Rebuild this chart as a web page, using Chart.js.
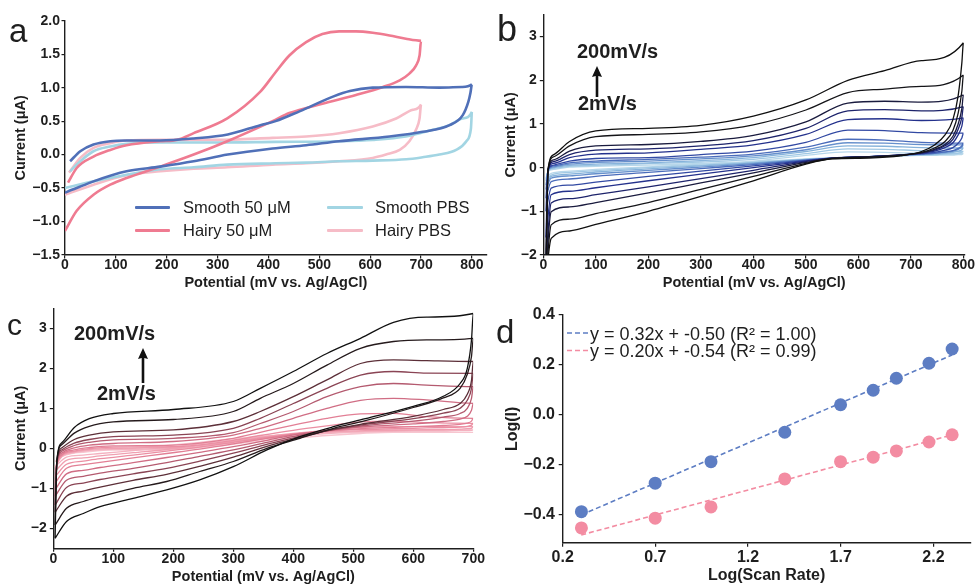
<!DOCTYPE html>
<html>
<head>
<meta charset="utf-8">
<script src="https://cdn.jsdelivr.net/npm/chart.js@4.4.1/dist/chart.umd.min.js"></script>
<style>
  body { margin: 0; background: #fff; font-family: 'Liberation Sans', Arial, sans-serif; color: #1e1e1e; }
  #wrap { position: relative; width: 977px; height: 584px; overflow: hidden; }
  canvas, .t, .ln, svg { position: absolute; }
  .t { line-height: 1; white-space: nowrap; }
  .tag { font-size: 32px; }
  .ann { font-size: 20px; font-weight: bold; }
  .lega { font-size: 16.5px; }
  .legd { font-size: 18px; }
  .ln { height: 3px; border-radius: 1px; }
</style>
</head>
<body>
<div id="wrap">
  <canvas id="cvA" width="490" height="290" style="left:0;top:0"></canvas>
  <canvas id="cvB" width="487" height="290" style="left:490px;top:0"></canvas>
  <canvas id="cvC" width="490" height="294" style="left:0;top:290px"></canvas>
  <canvas id="cvD" width="487" height="294" style="left:490px;top:290px"></canvas>

  <div class="t tag" style="left:9px;top:14px;font-size:33px">a</div>
  <div class="t tag" style="left:497px;top:11px;font-size:36px">b</div>
  <div class="t tag" style="left:7px;top:310px;font-size:30px">c</div>
  <div class="t tag" style="left:496px;top:315px;font-size:33px">d</div>

  <!-- panel a legend -->
  <div class="ln" style="left:135px;top:206px;width:35px;background:#5070b8"></div>
  <div class="t lega" style="left:183px;top:199px">Smooth 50 μM</div>
  <div class="ln" style="left:135px;top:229px;width:35px;background:#ef7b91"></div>
  <div class="t lega" style="left:183px;top:222px">Hairy 50 μM</div>
  <div class="ln" style="left:327px;top:206px;width:36px;background:#a2d5e3"></div>
  <div class="t lega" style="left:375px;top:199px">Smooth PBS</div>
  <div class="ln" style="left:327px;top:229px;width:36px;background:#f6bcc7"></div>
  <div class="t lega" style="left:375px;top:222px">Hairy PBS</div>

  <!-- scan rate notes -->
  <div class="t ann" style="left:577px;top:41px">200mV/s</div>
  <div class="t ann" style="left:578px;top:93px">2mV/s</div>
  <svg style="left:591px;top:66px" width="12" height="32"><path d="M6 0 L11 11 L7.3 10 V31 H4.7 V10 L1 11 Z" fill="#111"/></svg>
  <div class="t ann" style="left:74px;top:323px">200mV/s</div>
  <div class="t ann" style="left:97px;top:383px">2mV/s</div>
  <svg style="left:137px;top:348px" width="12" height="36"><path d="M6 0 L11 11 L7.3 10 V35 H4.7 V10 L1 11 Z" fill="#111"/></svg>

  <!-- panel d legend -->
  <svg style="left:566px;top:330px" width="24" height="24">
    <line x1="1" y1="3" x2="22" y2="3" stroke="#5d7dc3" stroke-width="1.6" stroke-dasharray="5,3"/>
    <line x1="1" y1="20.5" x2="22" y2="20.5" stroke="#f38ca2" stroke-width="1.6" stroke-dasharray="5,3"/>
  </svg>
  <div class="t legd" style="left:590px;top:325px">y = 0.32x + -0.50 (R² = 1.00)</div>
  <div class="t legd" style="left:590px;top:342px">y = 0.20x + -0.54 (R² = 0.99)</div>
</div>

<script>
// ---------- panel a : CV at 50 mV/s (potential mV, current uA) ----------
const smooth50X = [10, 30, 56, 89, 121, 187, 253, 320, 384, 414, 462, 528, 560, 605, 670, 736, 780, 800, 797, 793, 782, 756, 703, 638, 539, 474, 408, 320, 253, 187, 121, 56, 36, 12, 0];
const smooth50Y = [-0.10, 0.05, 0.15, 0.2, 0.21, 0.21, 0.24, 0.3, 0.44, 0.5, 0.65, 0.87, 0.95, 1.0, 1.01, 1.0, 1.01, 1.05, 0.92, 0.79, 0.59, 0.44, 0.34, 0.27, 0.2, 0.14, 0.09, 0.0, -0.1, -0.18, -0.25, -0.4, -0.46, -0.53, -0.57];

const hairy50X = [6, 23, 56, 89, 121, 187, 220, 253, 319, 384, 414, 441, 474, 506, 539, 572, 605, 638, 670, 700, 697, 690, 677, 658, 625, 572, 506, 441, 408, 319, 253, 187, 121, 89, 56, 23, 0];
const hairy50Y = [-0.42, -0.2, -0.03, 0.07, 0.14, 0.2, 0.22, 0.32, 0.54, 0.94, 1.23, 1.48, 1.68, 1.8, 1.84, 1.84, 1.82, 1.78, 1.73, 1.70, 1.48, 1.33, 1.21, 1.11, 1.01, 0.89, 0.76, 0.62, 0.5, 0.2, 0.0, -0.18, -0.35, -0.45, -0.6, -0.84, -1.14];

const smoothPbsX = [10, 30, 56, 89, 121, 187, 300, 414, 539, 605, 670, 723, 756, 782, 800, 798, 789, 769, 736, 703, 671, 605, 539, 474, 414, 319, 253, 187, 121, 56, 0];
const smoothPbsY = [-0.25, -0.10, 0.05, 0.12, 0.16, 0.18, 0.18, 0.19, 0.2, 0.22, 0.27, 0.37, 0.44, 0.54, 0.64, 0.39, 0.2, 0.07, 0.0, -0.04, -0.07, -0.09, -0.10, -0.12, -0.13, -0.15, -0.19, -0.22, -0.30, -0.40, -0.50];

const hairyPbsX = [8, 30, 56, 89, 121, 187, 300, 408, 474, 539, 605, 651, 684, 700, 697, 690, 677, 658, 631, 605, 539, 474, 408, 319, 253, 187, 121, 56, 0];
const hairyPbsY = [-0.27, -0.05, 0.1, 0.17, 0.21, 0.22, 0.22, 0.25, 0.27, 0.32, 0.42, 0.54, 0.67, 0.75, 0.54, 0.37, 0.2, 0.07, 0.0, -0.05, -0.10, -0.13, -0.15, -0.19, -0.21, -0.25, -0.31, -0.45, -0.6];

// ---------- panel b : smooth, scan rates 2 -> 200 mV/s ----------
const bUpX = [5, 9, 20, 50, 100, 200, 300, 400, 500, 580, 650, 720, 800];
const bUp = [
  [-0.25, -0.09, -0.04, 0.01, 0.03, 0.06, 0.1, 0.15, 0.28, 0.36, 0.35, 0.33, 0.32],
  [-0.3, -0.08, -0.02, 0.03, 0.05, 0.09, 0.13, 0.19, 0.32, 0.43, 0.42, 0.39, 0.37],
  [-0.4, -0.07, 0.0, 0.05, 0.08, 0.11, 0.16, 0.23, 0.37, 0.5, 0.49, 0.46, 0.45],
  [-0.5, -0.06, 0.02, 0.08, 0.12, 0.15, 0.2, 0.27, 0.41, 0.57, 0.56, 0.53, 0.52],
  [-0.7, -0.05, 0.04, 0.11, 0.15, 0.19, 0.24, 0.31, 0.47, 0.65, 0.63, 0.58, 0.56],
  [-1.0, -0.05, 0.06, 0.15, 0.21, 0.23, 0.3, 0.38, 0.58, 0.86, 0.85, 0.8, 0.79],
  [-1.6, -0.05, 0.1, 0.23, 0.31, 0.34, 0.42, 0.52, 0.76, 1.1, 1.12, 1.08, 1.14],
  [-2.1, -0.05, 0.14, 0.3, 0.4, 0.43, 0.5, 0.62, 0.9, 1.3, 1.33, 1.3, 1.40],
  [-2.3, -0.05, 0.18, 0.38, 0.5, 0.53, 0.6, 0.74, 1.05, 1.48, 1.52, 1.5, 1.67],
  [-2.5, -0.05, 0.25, 0.5, 0.71, 0.76, 0.82, 0.98, 1.32, 1.72, 1.8, 1.86, 2.12],
  [-2.5, -0.05, 0.3, 0.6, 0.84, 0.9, 0.97, 1.18, 1.55, 2.0, 2.22, 2.45, 2.86]
];
const bLoX = [797, 790, 780, 765, 745, 720, 680, 620, 550, 500, 400, 300, 200, 100, 50, 15, 5];
const bLo = [
  [0.3, 0.3, 0.29, 0.29, 0.28, 0.28, 0.27, 0.25, 0.23, 0.2, 0.14, 0.08, 0.02, -0.04, -0.08, -0.13, -0.25],
  [0.35, 0.33, 0.32, 0.31, 0.3, 0.29, 0.27, 0.25, 0.22, 0.19, 0.12, 0.06, 0.0, -0.07, -0.11, -0.17, -0.3],
  [0.41, 0.38, 0.35, 0.33, 0.31, 0.3, 0.28, 0.25, 0.22, 0.19, 0.11, 0.04, -0.03, -0.1, -0.15, -0.2, -0.4],
  [0.47, 0.42, 0.38, 0.35, 0.33, 0.31, 0.28, 0.25, 0.22, 0.18, 0.09, 0.01, -0.06, -0.14, -0.19, -0.24, -0.5],
  [0.5, 0.44, 0.39, 0.36, 0.33, 0.31, 0.28, 0.25, 0.22, 0.17, 0.07, -0.02, -0.11, -0.2, -0.26, -0.32, -0.7],
  [0.68, 0.56, 0.46, 0.4, 0.35, 0.32, 0.29, 0.25, 0.22, 0.16, 0.04, -0.08, -0.2, -0.33, -0.4, -0.47, -1.0],
  [0.95, 0.75, 0.57, 0.46, 0.38, 0.33, 0.29, 0.25, 0.22, 0.15, 0.0, -0.15, -0.3, -0.46, -0.54, -0.62, -1.6],
  [1.15, 0.88, 0.65, 0.5, 0.4, 0.34, 0.29, 0.25, 0.22, 0.14, -0.06, -0.25, -0.44, -0.62, -0.71, -0.81, -2.1],
  [1.35, 1.0, 0.72, 0.53, 0.42, 0.34, 0.29, 0.25, 0.22, 0.12, -0.12, -0.35, -0.58, -0.8, -0.9, -1.01, -2.3],
  [1.75, 1.25, 0.85, 0.6, 0.45, 0.35, 0.28, 0.24, 0.21, 0.1, -0.2, -0.5, -0.8, -1.05, -1.18, -1.31, -2.5],
  [2.4, 1.65, 1.1, 0.75, 0.52, 0.37, 0.27, 0.22, 0.2, 0.08, -0.3, -0.66, -1.0, -1.3, -1.45, -1.62, -2.5]
];
const bColors = ['#b7d7ea', '#a0c8e4', '#86b3db', '#6690cc', '#4a6cbb', '#3249a3', '#24318c', '#1d236b', '#1a1b3e', '#141418', '#101010'];

// ---------- panel c : hairy, scan rates 2 -> 200 mV/s ----------
const cUpX = [3, 6, 15, 35, 60, 100, 200, 300, 345, 400, 456, 512, 567, 622, 700];
const cUp = [
  [-0.33, -0.3, -0.2, -0.12, -0.06, -0.04, -0.03, 0.1, 0.18, 0.25, 0.32, 0.37, 0.4, 0.4, 0.4],
  [-0.46, -0.38, -0.2, -0.11, -0.05, -0.03, -0.01, 0.13, 0.22, 0.3, 0.37, 0.42, 0.45, 0.46, 0.46],
  [-0.58, -0.4, -0.19, -0.09, -0.03, 0.0, 0.02, 0.16, 0.27, 0.37, 0.45, 0.52, 0.54, 0.54, 0.54],
  [-0.71, -0.4, -0.17, -0.07, -0.01, 0.03, 0.04, 0.2, 0.32, 0.45, 0.56, 0.66, 0.68, 0.64, 0.625],
  [-0.875, -0.4, -0.15, -0.04, 0.02, 0.06, 0.08, 0.25, 0.4, 0.58, 0.75, 0.86, 0.875, 0.79, 0.75],
  [-1.04, -0.38, -0.11, 0.01, 0.08, 0.12, 0.17, 0.33, 0.5, 0.75, 1.0, 1.2, 1.25, 1.21, 1.125],
  [-1.2, -0.36, -0.07, 0.07, 0.15, 0.21, 0.25, 0.39, 0.62, 0.92, 1.29, 1.54, 1.62, 1.58, 1.54],
  [-1.42, -0.34, -0.03, 0.13, 0.22, 0.29, 0.33, 0.5, 0.75, 1.12, 1.5, 1.83, 1.92, 1.88, 1.875],
  [-1.6, -0.32, 0.02, 0.22, 0.33, 0.41, 0.46, 0.67, 0.92, 1.29, 1.71, 2.12, 2.21, 2.19, 2.17],
  [-1.92, -0.3, 0.1, 0.38, 0.55, 0.66, 0.72, 0.92, 1.25, 1.62, 2.08, 2.5, 2.67, 2.71, 2.75],
  [-2.25, -0.3, 0.15, 0.52, 0.74, 0.87, 0.97, 1.17, 1.5, 1.92, 2.37, 2.75, 3.15, 3.28, 3.37]
];
const cLoX = [697, 690, 678, 650, 600, 520, 467, 411, 356, 300, 244, 189, 133, 78, 50, 22, 3];
const cLo = [
  [0.4, 0.4, 0.4, 0.4, 0.4, 0.4, 0.39, 0.36, 0.31, 0.24, 0.15, 0.07, 0.0, -0.06, -0.1, -0.14, -0.33],
  [0.45, 0.44, 0.44, 0.43, 0.43, 0.42, 0.4, 0.36, 0.3, 0.21, 0.11, 0.02, -0.06, -0.13, -0.17, -0.22, -0.46],
  [0.5, 0.49, 0.48, 0.47, 0.46, 0.44, 0.42, 0.37, 0.29, 0.18, 0.07, -0.03, -0.11, -0.19, -0.24, -0.3, -0.58],
  [0.58, 0.55, 0.53, 0.52, 0.5, 0.47, 0.44, 0.37, 0.27, 0.15, 0.03, -0.07, -0.17, -0.26, -0.32, -0.4, -0.71],
  [0.68, 0.63, 0.6, 0.57, 0.54, 0.5, 0.45, 0.37, 0.25, 0.11, -0.02, -0.13, -0.24, -0.35, -0.41, -0.5, -0.875],
  [0.95, 0.8, 0.73, 0.67, 0.61, 0.54, 0.46, 0.36, 0.2, 0.04, -0.1, -0.23, -0.36, -0.48, -0.55, -0.64, -1.04],
  [1.25, 1.0, 0.87, 0.78, 0.68, 0.57, 0.47, 0.33, 0.15, -0.04, -0.2, -0.36, -0.5, -0.62, -0.7, -0.8, -1.2],
  [1.5, 1.2, 1.0, 0.88, 0.74, 0.6, 0.47, 0.3, 0.1, -0.12, -0.32, -0.5, -0.64, -0.78, -0.87, -0.98, -1.42],
  [1.7, 1.35, 1.12, 0.97, 0.8, 0.62, 0.48, 0.27, 0.05, -0.22, -0.45, -0.65, -0.8, -0.97, -1.07, -1.2, -1.6],
  [2.3, 1.85, 1.5, 1.26, 1.02, 0.69, 0.5, 0.25, 0.0, -0.33, -0.58, -0.83, -1.0, -1.21, -1.33, -1.5, -1.92],
  [2.71, 2.0, 1.62, 1.3, 1.05, 0.74, 0.54, 0.29, -0.04, -0.46, -0.79, -1.04, -1.25, -1.46, -1.63, -1.83, -2.25]
];
const cColors = ['#f7c6d0', '#f4b2c0', '#f0a0b1', '#eb8fa3', '#e27f95', '#d06d84', '#b45a6f', '#8a4454', '#5c2f38', '#251a1c', '#111111'];

// ---------- panel d : log(I) vs log(scan rate) ----------
const logRate = [0.301, 0.699, 1.0, 1.398, 1.699, 1.875, 2.0, 2.176, 2.301];
const smoothLogI = [-0.387, -0.273, -0.187, -0.069, 0.041, 0.099, 0.147, 0.207, 0.264];
const hairyLogI = [-0.452, -0.413, -0.368, -0.256, -0.187, -0.169, -0.144, -0.108, -0.079];
const fitX = [0.3, 2.3];
const smoothFit = [-0.40, 0.24];
const hairyFit = [-0.48, -0.08];

// tick values
const aXTicks = [0, 100, 200, 300, 400, 500, 600, 700, 800];
const aYTicks = [-1.5, -1.0, -0.5, 0, 0.5, 1.0, 1.5, 2.0];
const bXTicks = [0, 100, 200, 300, 400, 500, 600, 700, 800];
const bYTicks = [-2, -1, 0, 1, 2, 3];
const cXTicks = [0, 100, 200, 300, 400, 500, 600, 700];
const cYTicks = [-2, -1, 0, 1, 2, 3];
const dXTicks = [0.2, 0.7, 1.2, 1.7, 2.2];
const dYTicks = [-0.4, -0.2, 0, 0.2, 0.4];

const FONT = "'Liberation Sans', Arial, sans-serif";
const INK = '#1e1e1e';

function pts(xs, ys) { return xs.map((x, i) => ({x: x, y: ys[i]})); }
function minus(s) { return String(s).replace('-', '\u2212'); }
const fix1 = v => minus(v.toFixed(1));
const plain = v => minus(String(v));

function cvLine(data, color, width) {
  return {data: data, borderColor: color, borderWidth: width, pointRadius: 0, fill: false,
          cubicInterpolationMode: 'monotone'};
}

function axisSet(o) {
  const tickFont = {family: FONT, size: o.fs, weight: 'bold', lineHeight: 1};
  const titleFont = {family: FONT, size: o.ts, weight: 'bold', lineHeight: 1};
  const grid = {display: true, drawOnChartArea: false, drawTicks: true, tickLength: o.tl, color: INK, lineWidth: 1.2};
  const border = {display: true, color: INK, width: 1.4};
  return {
    x: {
      type: 'linear', min: o.xr[0], max: o.xr[1], grid: grid, border: border,
      afterBuildTicks: s => { s.ticks = o.xt.map(v => ({value: v})); },
      afterFit: s => { s.height = o.xh; },
      ticks: {font: tickFont, color: INK, padding: o.xpad, maxRotation: 0, autoSkip: false, callback: o.xf},
      title: {display: true, text: o.xtitle, font: titleFont, color: INK, padding: 0}
    },
    y: {
      type: 'linear', min: o.yr[0], max: o.yr[1], grid: grid, border: border,
      afterBuildTicks: s => { s.ticks = o.yt.map(v => ({value: v})); },
      afterFit: s => { s.width = o.yw; },
      ticks: {font: tickFont, color: INK, padding: o.ypad, autoSkip: false, callback: o.yf},
      title: {display: true, text: o.ytitle, font: titleFont, color: INK, padding: {top: o.ytp, bottom: 0}}
    }
  };
}

function makeChart(id, datasets, o) {
  return new Chart(document.getElementById(id), {
    type: 'line',
    data: {datasets: datasets},
    options: {
      responsive: false, animation: false, events: [],
      layout: {padding: {left: 0, top: o.top, right: o.right, bottom: 0}},
      plugins: {legend: {display: false}, tooltip: {enabled: false}},
      scales: axisSet(o)
    }
  });
}

const potTitle = 'Potential (mV vs. Ag/AgCl)';

// panel a
makeChart('cvA', [
  cvLine(pts(smooth50X, smooth50Y), '#5070b8', 2.6),
  cvLine(pts(hairy50X, hairy50Y), '#ef7b91', 2.6),
  cvLine(pts(smoothPbsX, smoothPbsY), '#a2d5e3', 2.6),
  cvLine(pts(hairyPbsX, hairyPbsY), '#f6bcc7', 2.6)
], {top: 20.7, right: 3.3, xr: [0, 829], yr: [-1.5, 2.0], xt: aXTicks, yt: aYTicks,
    xh: 35, yw: 65, fs: 14, ts: 14.5, tl: 3.5, xpad: 0, ypad: 1.5, ytp: 13.75,
    xf: plain, yf: fix1, xtitle: potTitle, ytitle: 'Current (μA)'});

// panel b (darkest drawn on top)
const bSets = [];
for (let i = bUp.length - 1; i >= 0; i--) {
  bSets.push(cvLine(pts(bUpX, bUp[i]).concat(pts(bLoX, bLo[i])), bColors[i], 1.3));
}
makeChart('cvB', bSets, {top: 14.8, right: 12, xr: [0, 803], yr: [-2, 3.5], xt: bXTicks, yt: bYTicks,
    xh: 35, yw: 53.3, fs: 14, ts: 14.5, tl: 3.5, xpad: 0, ypad: 3, ytp: 13.75,
    xf: plain, yf: plain, xtitle: potTitle, ytitle: 'Current (μA)'});

// panel c
const cSets = [];
for (let i = cUp.length - 1; i >= 0; i--) {
  cSets.push(cvLine(pts(cUpX, cUp[i]).concat(pts(cLoX, cLo[i])), cColors[i], 1.3));
}
makeChart('cvC', cSets, {top: 18.3, right: 16.7, xr: [0, 700], yr: [-2.5, 3.5], xt: cXTicks, yt: cYTicks,
    xh: 35.7, yw: 53.3, fs: 14, ts: 14.5, tl: 3.5, xpad: 0.2, ypad: 3, ytp: 13.25,
    xf: plain, yf: plain, xtitle: potTitle, ytitle: 'Current (μA)'});

// panel d
makeChart('cvD', [
  {data: pts(logRate, smoothLogI), showLine: false, pointRadius: 6.5, pointBackgroundColor: '#5d7dc3', pointBorderWidth: 0},
  {data: pts(logRate, hairyLogI), showLine: false, pointRadius: 6.5, pointBackgroundColor: '#f38ca2', pointBorderWidth: 0},
  {data: pts(fitX, smoothFit), borderColor: '#5d7dc3', borderWidth: 1.6, borderDash: [5, 3], pointRadius: 0, fill: false},
  {data: pts(fitX, hairyFit), borderColor: '#f38ca2', borderWidth: 1.6, borderDash: [5, 3], pointRadius: 0, fill: false}
], {top: 25, right: 0, xr: [0.2, 2.4], yr: [-0.511, 0.4], xt: dXTicks, yt: dYTicks,
    xh: 41.3, yw: 72.7, fs: 16, ts: 16, tl: 4, xpad: 3.3, ypad: 3.7, ytp: 14.5,
    xf: fix1, yf: fix1, xtitle: 'Log(Scan Rate)', ytitle: 'Log(I)'});
</script>
</body>
</html>
